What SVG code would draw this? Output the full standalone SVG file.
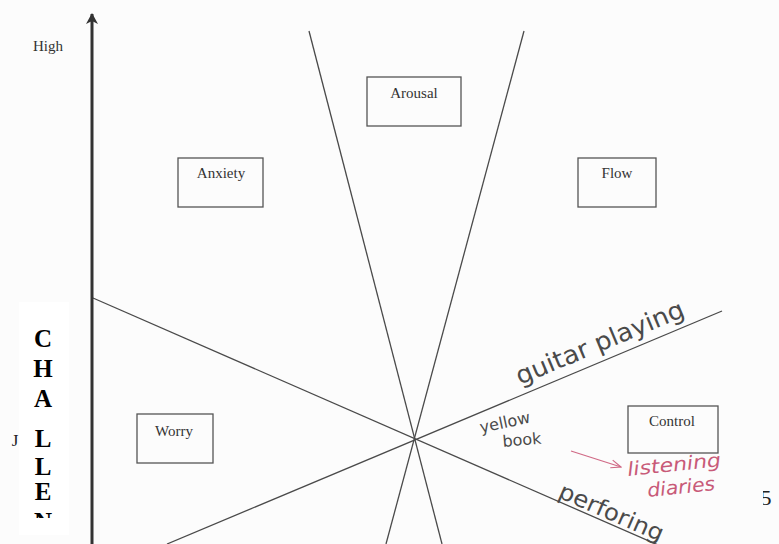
<svg xmlns="http://www.w3.org/2000/svg" width="779" height="544" viewBox="0 0 779 544">
<defs>
<style>
.ln{stroke:#4a4a4a;stroke-width:1.3;fill:none}
.box{fill:none;stroke:#555;stroke-width:1.3}
.lbl{font-family:"Liberation Serif",serif;font-size:15px;fill:#333;text-anchor:middle}
.hand{font-family:"DejaVu Sans","Liberation Sans",sans-serif;fill:#4a4a4a;font-weight:normal}
.pink{font-family:"DejaVu Sans","Liberation Sans",sans-serif;fill:#c85a78;font-style:italic}
.big{font-family:"Liberation Serif",serif;font-weight:bold;font-size:25px;fill:#000;text-anchor:middle}
</style>
<marker id="ah" markerWidth="12" markerHeight="12" refX="10" refY="6" orient="auto" markerUnits="userSpaceOnUse">
<path d="M0,0 L11,6 L0,12 L3,6 Z" fill="#333"/>
</marker>
<marker id="pa" markerWidth="12" markerHeight="10" refX="11" refY="5" orient="auto" markerUnits="userSpaceOnUse">
<path d="M1,1 L11,5 L1,9" fill="none" stroke="#d06a86" stroke-width="1.2"/>
</marker>
<clipPath id="clipC"><rect x="18" y="300" width="55" height="218"/></clipPath>
<clipPath id="clip5"><rect x="763" y="480" width="16" height="40"/></clipPath>
</defs>
<rect width="779" height="544" fill="#fcfcfc"/>
<g id="connectors">
<line class="ln" x1="93" y1="298" x2="665" y2="548"/>
<line class="ln" x1="722" y1="311" x2="167" y2="544"/>
<line class="ln" x1="309" y1="31" x2="442" y2="544"/>
<line class="ln" x1="524" y1="31" x2="386" y2="544"/>
<line x1="92" y1="544" x2="92" y2="14" stroke="#333" stroke-width="3" marker-end="url(#ah)"/>
<line x1="571" y1="451" x2="621" y2="467" stroke="#d06a86" stroke-width="1.2" marker-end="url(#pa)"/>
</g>
<text x="48" y="51" class="lbl" font-size="13">High</text>
<g id="arousal"><rect class="box" x="367" y="77" width="94" height="49"/><text class="lbl" x="414" y="98">Arousal</text></g>
<g id="anxiety"><rect class="box" x="178" y="158" width="85" height="49"/><text class="lbl" x="221" y="178">Anxiety</text></g>
<g id="flow"><rect class="box" x="578" y="158" width="78" height="49"/><text class="lbl" x="617" y="178">Flow</text></g>
<g id="worry"><rect class="box" x="137" y="414" width="76" height="49"/><text class="lbl" x="174" y="436">Worry</text></g>
<g id="control"><rect class="box" x="628" y="406" width="90" height="47"/><text class="lbl" x="672" y="426">Control</text></g>
<g id="challenge">
<rect x="19" y="302" width="50" height="233" fill="#fff"/>
<g clip-path="url(#clipC)">
<text class="big" x="43" y="347">C</text>
<text class="big" x="43" y="377">H</text>
<text class="big" x="43" y="407">A</text>
<text class="big" x="43" y="447">L</text>
<text class="big" x="43" y="475">L</text>
<text class="big" x="43" y="500">E</text>
<text class="big" x="43" y="530">N</text>
</g>
</g>
<text x="15" y="446" font-family="Liberation Serif,serif" font-size="17" fill="#222" text-anchor="middle">J</text>
<g clip-path="url(#clip5)"><text x="766" y="505" font-family="Liberation Serif,serif" font-size="22" fill="#222" text-anchor="middle">5</text></g>
<g id="annotations">
<text class="hand" font-size="25" transform="translate(520,385) rotate(-22.6)" textLength="180" lengthAdjust="spacingAndGlyphs">guitar playing</text>
<text class="hand" font-size="16" transform="translate(481,433) rotate(-12)">yellow</text>
<text class="hand" font-size="16" transform="translate(503,447) rotate(-5)">book</text>
<text class="pink" font-size="19" transform="translate(628,476) rotate(-6)" textLength="94" lengthAdjust="spacingAndGlyphs">listening</text>
<text class="pink" font-size="19" transform="translate(648,497) rotate(-6)" textLength="68" lengthAdjust="spacingAndGlyphs">diaries</text>
<text class="hand" font-size="23" transform="translate(557,497) rotate(23.6)" textLength="112" lengthAdjust="spacingAndGlyphs">perforing</text>
</g>
</svg>
